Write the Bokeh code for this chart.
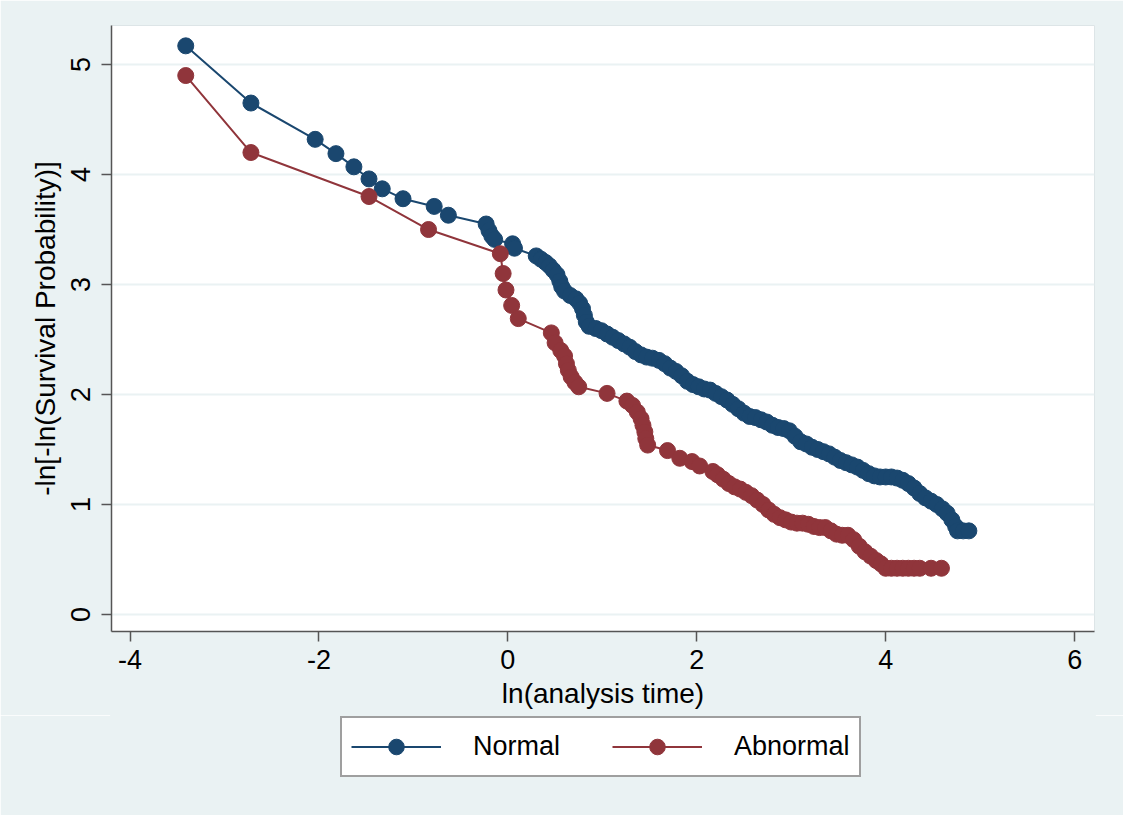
from bokeh.plotting import figure
from bokeh.layouts import column
from bokeh.models import Legend, LegendItem, Range1d, FixedTicker, CustomJSTickFormatter
from bokeh.embed import file_html
from bokeh.resources import INLINE

# ---- data ----
normal_x = [-3.41, -2.72, -2.04, -1.82, -1.63, -1.47, -1.33, -1.11, -0.78, -0.63,
            -0.23, -0.20, -0.17, -0.14, 0.05, 0.07, 0.30, 0.35, 0.40, 0.44,
            0.48, 0.52, 0.55, 0.57, 0.60, 0.66, 0.72, 0.76, 0.79, 0.81,
            0.83, 0.86, 0.93, 0.99, 1.05, 1.11, 1.17, 1.23, 1.29, 1.35,
            1.41, 1.47, 1.53, 1.60, 1.66, 1.72, 1.78, 1.84, 1.90, 1.96,
            2.02, 2.08, 2.14, 2.20, 2.26, 2.32, 2.38, 2.44, 2.50, 2.56,
            2.62, 2.68, 2.74, 2.80, 2.86, 2.92, 2.98, 3.04, 3.10, 3.16,
            3.22, 3.28, 3.34, 3.40, 3.46, 3.52, 3.58, 3.64, 3.70, 3.76,
            3.82, 3.88, 3.94, 4.00, 4.06, 4.12, 4.18, 4.24, 4.30, 4.36,
            4.42, 4.48, 4.54, 4.60, 4.65, 4.70, 4.74, 4.76, 4.82, 4.88]
normal_y = [5.17, 4.65, 4.32, 4.19, 4.07, 3.96, 3.87, 3.78, 3.71, 3.63,
            3.55, 3.49, 3.44, 3.41, 3.37, 3.33, 3.26, 3.23, 3.20, 3.17,
            3.13, 3.09, 3.03, 2.98, 2.94, 2.90, 2.87, 2.83, 2.78, 2.72,
            2.66, 2.62, 2.60, 2.58, 2.55, 2.52, 2.49, 2.46, 2.43, 2.39,
            2.36, 2.34, 2.33, 2.31, 2.28, 2.24, 2.21, 2.17, 2.12, 2.09,
            2.07, 2.05, 2.04, 2.01, 1.98, 1.95, 1.91, 1.87, 1.83, 1.80,
            1.79, 1.77, 1.75, 1.72, 1.70, 1.69, 1.67, 1.62, 1.57, 1.55,
            1.52, 1.50, 1.48, 1.46, 1.43, 1.40, 1.38, 1.36, 1.34, 1.31,
            1.28, 1.26, 1.25, 1.25, 1.25, 1.24, 1.22, 1.19, 1.15, 1.10,
            1.06, 1.03, 1.00, 0.96, 0.92, 0.86, 0.80, 0.76, 0.76, 0.76]

abnormal_x = [-3.41, -2.72, -1.47, -0.84, -0.08, -0.05, -0.02, 0.04, 0.11, 0.46,
              0.50, 0.56, 0.60, 0.62, 0.64, 0.67, 0.71, 0.75, 1.05, 1.26,
              1.32, 1.37, 1.41, 1.43, 1.45, 1.46, 1.48, 1.69, 1.82, 1.95,
              2.03, 2.17, 2.22, 2.28, 2.34, 2.40, 2.46, 2.52, 2.58, 2.64,
              2.70, 2.76, 2.82, 2.88, 2.94, 3.00, 3.06, 3.12, 3.18, 3.24,
              3.30, 3.36, 3.42, 3.48, 3.54, 3.60, 3.66, 3.72, 3.78, 3.84,
              3.90, 3.95, 4.00, 4.06, 4.12, 4.18, 4.24, 4.30, 4.36, 4.48,
              4.59]
abnormal_y = [4.90, 4.20, 3.80, 3.50, 3.28, 3.10, 2.95, 2.81, 2.69, 2.56,
              2.47, 2.40, 2.35, 2.28, 2.22, 2.16, 2.11, 2.07, 2.01, 1.94,
              1.90, 1.84, 1.78, 1.72, 1.66, 1.60, 1.54, 1.49, 1.42, 1.39,
              1.35, 1.30, 1.27, 1.23, 1.19, 1.16, 1.14, 1.11, 1.08, 1.04,
              1.00, 0.95, 0.91, 0.88, 0.86, 0.84, 0.83, 0.83, 0.82, 0.80,
              0.79, 0.79, 0.76, 0.73, 0.72, 0.72, 0.68, 0.62, 0.57, 0.53,
              0.49, 0.46, 0.42, 0.42, 0.42, 0.42, 0.42, 0.42, 0.42, 0.42,
              0.42]

series_labels = ["Normal", "Abnormal"]
x_ticks = [-4, -2, 0, 2, 4, 6]
y_ticks = [0, 1, 2, 3, 4, 5]

BLUE = "#1a476f"
RED = "#90353b"
BG = "#eaf2f3"
FONT = "Liberation Sans"

# ---- main plot ----
p = figure(width=1123, height=715, output_backend="svg", toolbar_location=None,
           x_range=Range1d(-4.196, 6.21), y_range=Range1d(-0.155, 5.355),
           min_border_left=111, min_border_right=29, min_border_top=25,
           min_border_bottom=84,
           background_fill_color="white", border_fill_color=BG)
p.outline_line_color = "#dde5e7"
p.outline_line_width = 1

p.xgrid.visible = False
p.ygrid.ticker = FixedTicker(ticks=y_ticks)
p.ygrid.grid_line_color = BG
p.ygrid.grid_line_width = 2

fmt = "return tick.toFixed(0);"
for ax in (p.xaxis[0], p.yaxis[0]):
    ax.axis_line_color = "#555555"
    ax.axis_line_width = 1.5
    ax.major_tick_line_color = "#555555"
    ax.major_tick_line_width = 1.5
    ax.major_tick_out = 10
    ax.major_tick_in = 0
    ax.minor_tick_line_color = None
    ax.major_label_text_font = FONT
    ax.major_label_text_font_size = "27px"
    ax.major_label_text_color = "black"
    ax.axis_label_text_font = FONT
    ax.axis_label_text_font_size = "28px"
    ax.axis_label_text_font_style = "normal"
    ax.axis_label_text_color = "black"
    ax.formatter = CustomJSTickFormatter(code=fmt)

p.xaxis[0].ticker = FixedTicker(ticks=x_ticks)
p.yaxis[0].ticker = FixedTicker(ticks=y_ticks)
p.xaxis[0].axis_label = "ln(analysis time)"
p.yaxis[0].axis_label = "-ln[-ln(Survival Probability)]"
p.xaxis[0].major_label_standoff = 8
p.yaxis[0].major_label_standoff = 11
p.yaxis[0].major_label_orientation = "vertical"
p.xaxis[0].axis_label_standoff = 6
p.yaxis[0].axis_label_standoff = 8

p.line(normal_x, normal_y, line_color=BLUE, line_width=2)
p.scatter(normal_x, normal_y, size=16, fill_color=BLUE, line_color=BLUE)
p.line(abnormal_x, abnormal_y, line_color=RED, line_width=2)
p.scatter(abnormal_x, abnormal_y, size=16, fill_color=RED, line_color=RED)

# ---- legend strip (its frame is aligned with the main plot's frame) ----
q = figure(width=1123, height=100, output_backend="svg", toolbar_location=None,
           x_range=Range1d(0, 1), y_range=Range1d(0, 1),
           x_axis_type=None, y_axis_type=None,
           min_border_left=0, min_border_right=0, min_border_top=0,
           min_border_bottom=0,
           background_fill_color=BG, border_fill_color=BG)
q.outline_line_color = BG
q.outline_line_width = 3
q.xgrid.visible = False
q.ygrid.visible = False

# off-range proxies so that the legend has glyphs to draw
ql1 = q.line([5, 6], [5, 6], line_color=BLUE, line_width=2)
qs1 = q.scatter([5], [5], size=16, fill_color=BLUE, line_color=BLUE)
ql2 = q.line([5, 6], [5, 6], line_color=RED, line_width=2)
qs2 = q.scatter([5], [5], size=16, fill_color=RED, line_color=RED)

legend = Legend(items=[LegendItem(label=series_labels[0], renderers=[ql1, qs1]),
                       LegendItem(label=series_labels[1], renderers=[ql2, qs2])],
                location=(229, 38), orientation="horizontal",
                glyph_width=90, glyph_height=39, label_standoff=32, spacing=52,
                padding=9, margin=0,
                label_text_font=FONT, label_text_font_size="27px",
                label_text_color="black",
                border_line_color="#404040", border_line_width=2,
                background_fill_color="white", background_fill_alpha=1.0)
q.add_layout(legend)

layout = column(p, q, spacing=0)
open("out.html", "w").write(file_html(layout, INLINE))
